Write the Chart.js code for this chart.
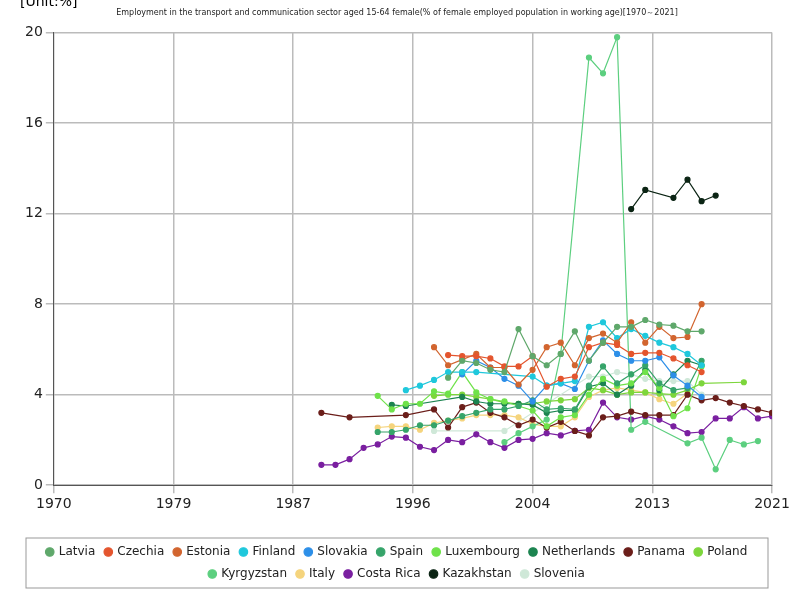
<!DOCTYPE html>
<html>
<head>
<meta charset="utf-8">
<script src="https://cdn.jsdelivr.net/npm/chart.js@4/dist/chart.umd.min.js"></script>
<style>
  body { margin: 0; background: #fff; }
  #wrap { width: 800px; height: 600px; position: relative; }
</style>
</head>
<body>
<div id="wrap"><canvas id="chart"></canvas></div>
<script>
const xTicks = [1970, 1978.5, 1987, 1995.5, 2004, 2012.5, 2021]
const yTicks = [0, 4, 8, 12, 16, 20]

// each series: first year + yearly values (null = missing)
const latviaStart = 1998
const latvia = [4.75, 5.5, 5.4, 5.1, 5.0, 6.9, 5.7, 5.3, 5.8, 6.8, 5.5, 6.3, 7.0, 7.0, 7.3, 7.1, 7.05, 6.8, 6.8]
const czechiaStart = 1998
const czechia = [5.75, 5.7, 5.7, 5.6, 5.25, 5.25, 5.7, 4.35, 4.7, 4.8, 6.1, 6.3, 6.2, 5.8, 5.85, 5.85, 5.6, 5.3, 5.0]
const estoniaStart = 1997
const estonia = [6.1, 5.3, 5.55, 5.8, 5.2, 5.2, 4.45, 5.1, 6.1, 6.3, 5.3, 6.5, 6.7, 6.3, 7.2, 6.3, 7.0, 6.5, 6.55, 8.0]
const finlandStart = 1995
const finland = [4.2, 4.4, 4.65, 5.0, 5.0, 5.0, null, null, null, 4.8, 4.4, 4.5, 4.6, 7.0, 7.2, 6.5, 6.9, 6.6, 6.3, 6.1, 5.8, 5.3]
const slovakiaStart = 1999
const slovakia = [4.9, 5.5, 5.2, 4.7, 4.4, 3.7, 4.4, 4.5, 4.25, 5.5, 6.4, 5.8, 5.5, 5.5, 5.65, 4.85, 4.4, 3.9]
const spainStart = 1993
const spain = [2.35, 2.35, 2.45, 2.65, 2.65, 2.85, 3.05, 3.2, 3.35, 3.35, 3.5, 3.75, 3.35, 3.4, 3.35, 4.4, 5.25, 4.5, 4.9, 5.3, 4.5, 4.2, 4.3, 5.5]
const luxembourgStart = 1993
const luxembourg = [3.95, 3.35, 3.6, 3.6, 4.15, 4.05, 5.0, 4.1, 3.8, 3.7, 3.5, 3.3, 2.6, 3.0, 3.1, 4.0, 4.7, 4.4, 4.5, 5.0, 4.3, 3.05, 3.4, 5.25]
const netherlandsStart = 1994
const netherlands = [3.55, 3.5, null, null, null, 3.9, 3.7, 3.6, 3.6, 3.6, 3.55, 3.2, 3.3, 3.3, 4.35, 4.5, 4.0, 4.4, 5.1, 4.2, 4.9, 5.5, 5.3]
const panamaStart = 1989
const panama = [3.2, null, 3.0, null, null, null, 3.1, null, 3.35, 2.55, 3.45, 3.65, 3.2, 3.0, 2.65, 2.9, 2.55, 2.8, 2.4, 2.2, 3.0, 3.05, 3.25, 3.1, 3.1, 3.1, 4.0, 3.75, 3.85, 3.65, 3.5, 3.35, 3.2]
const polandStart = 1997
const poland = [3.95, 4.0, 4.0, 3.9, 3.8, 3.65, 3.6, 3.6, 3.7, 3.75, 3.8, 4.3, 4.2, 4.0, 4.1, 4.1, 4.05, 4.0, 4.2, 4.5, null, null, 4.55]
const kyrgyzstanStart = 2002
const kyrgyzstan = [1.9, 2.3, 2.6, 2.9, 5.8, null, 18.9, 18.2, 19.8, 2.45, 2.8, null, null, 1.85, 2.1, 0.7, 2.0, 1.8, 1.95]
const italyStart = 1993
const italy = [2.55, 2.6, 2.6, 2.45, 2.75, 2.85, 2.95, 3.1, 3.1, 3.1, 3.0, 2.7, 2.6, 2.6, 3.0, 3.9, 4.2, 4.3, 4.2, 4.1, 3.8, 3.6, 4.05]
const costaRicaStart = 1989
const costaRica = [0.9, 0.9, 1.15, 1.65, 1.8, 2.15, 2.1, 1.7, 1.55, 2.0, 1.9, 2.25, 1.9, 1.65, 2.0, 2.05, 2.3, 2.2, 2.4, 2.45, 3.65, 3.0, 2.9, 3.05, 2.9, 2.6, 2.3, 2.35, 2.95, 2.95, 3.45, 2.95, 3.05]
const kazakhstanStart = 2011
const kazakhstan = [12.2, 13.05, null, 12.7, 13.5, 12.55, 12.8]
const sloveniaStart = 1997
const slovenia = [2.4, null, null, null, null, 2.4, null, null, null, null, null, 4.8, 4.8, 5.0, 4.9, 4.7, 4.6, 4.6, 4.6, 4.0]

function toPoints(start, values) {
  return values.map((v, i) => ({ x: start + i, y: v }))
}

const series = [
  ["Latvia", latviaStart, latvia, "#5fa86b"],
  ["Czechia", czechiaStart, czechia, "#e4552e"],
  ["Estonia", estoniaStart, estonia, "#d2652f"],
  ["Finland", finlandStart, finland, "#1fc8dc"],
  ["Slovakia", slovakiaStart, slovakia, "#2d8fe8"],
  ["Spain", spainStart, spain, "#36a46a"],
  ["Luxembourg", luxembourgStart, luxembourg, "#6fe24a"],
  ["Netherlands", netherlandsStart, netherlands, "#1c8450"],
  ["Panama", panamaStart, panama, "#6b1e1a"],
  ["Poland", polandStart, poland, "#7dd63c"],
  ["Kyrgyzstan", kyrgyzstanStart, kyrgyzstan, "#5ccf7f"],
  ["Italy", italyStart, italy, "#f5d47d"],
  ["Costa Rica", costaRicaStart, costaRica, "#7a1fa0"],
  ["Kazakhstan", kazakhstanStart, kazakhstan, "#0b2414"],
  ["Slovenia", sloveniaStart, slovenia, "#cfe8d8"]
]

const datasets = series.map(([name, start, vals, color]) => ({
  label: name,
  data: toPoints(start, vals),
  borderColor: color,
  backgroundColor: color,
  borderWidth: 1.2,
  pointRadius: 2.5,
  pointStyle: "circle",
  spanGaps: true,
  tension: 0
}))

// legend frame + unit label
const extras = {
  id: "extras",
  afterDraw(chart) {
    const ctx = chart.ctx
    const lg = chart.legend
    ctx.save()
    ctx.strokeStyle = "#999"
    ctx.lineWidth = 1
    ctx.strokeRect(lg.left + 4, lg.top + 2, lg.width - 8, lg.height - 4)
    ctx.fillStyle = "#000"
    ctx.font = "14px 'DejaVu Sans'"
    ctx.textBaseline = "middle"
    ctx.fillText("[Unit:%]", 20, 2)
    ctx.restore()
  }
}

new Chart(document.getElementById("chart"), {
  type: "line",
  data: { datasets },
  plugins: [extras],
  options: {
    responsive: true,
    maintainAspectRatio: false,
    animation: false,
    layout: { padding: { left: 22, right: 28, top: 0, bottom: 10 } },
    plugins: {
      title: {
        display: true,
        text: "Employment in the transport and communication sector aged 15-64 female(% of female employed population in working age)[1970～2021]",
        font: { size: 8, family: "DejaVu Sans", weight: "normal" },
        color: "#222",
        padding: { top: 8, bottom: 15 }
      },
      legend: {
        position: "bottom",
        labels: {
          color: "#222",
          font: { size: 12, family: "DejaVu Sans" },
          usePointStyle: true,
          pointStyle: "circle",
          boxWidth: 6,
          boxHeight: 6,
          padding: 10
        }
      },
      tooltip: { enabled: false }
    },
    scales: {
      x: {
        type: "linear",
        min: 1970,
        max: 2021,
        afterBuildTicks: (axis) => { axis.ticks = xTicks.map(v => ({ value: v })) },
        afterFit: (axis) => { axis.height += 20 },
        ticks: {
          color: "#222",
          font: { size: 14, family: "DejaVu Sans" },
          callback: (v) => Math.round(v),
          maxRotation: 0
        },
        grid: { color: "#bbb", lineWidth: 1.5 },
        border: { color: "#555" }
      },
      y: {
        min: 0,
        max: 20,
        afterBuildTicks: (axis) => { axis.ticks = yTicks.map(v => ({ value: v })) },
        ticks: {
          color: "#222",
          font: { size: 14, family: "DejaVu Sans" }
        },
        grid: { color: "#bbb", lineWidth: 1.5 },
        border: { color: "#555" }
      }
    }
  }
})
</script>
</body>
</html>
